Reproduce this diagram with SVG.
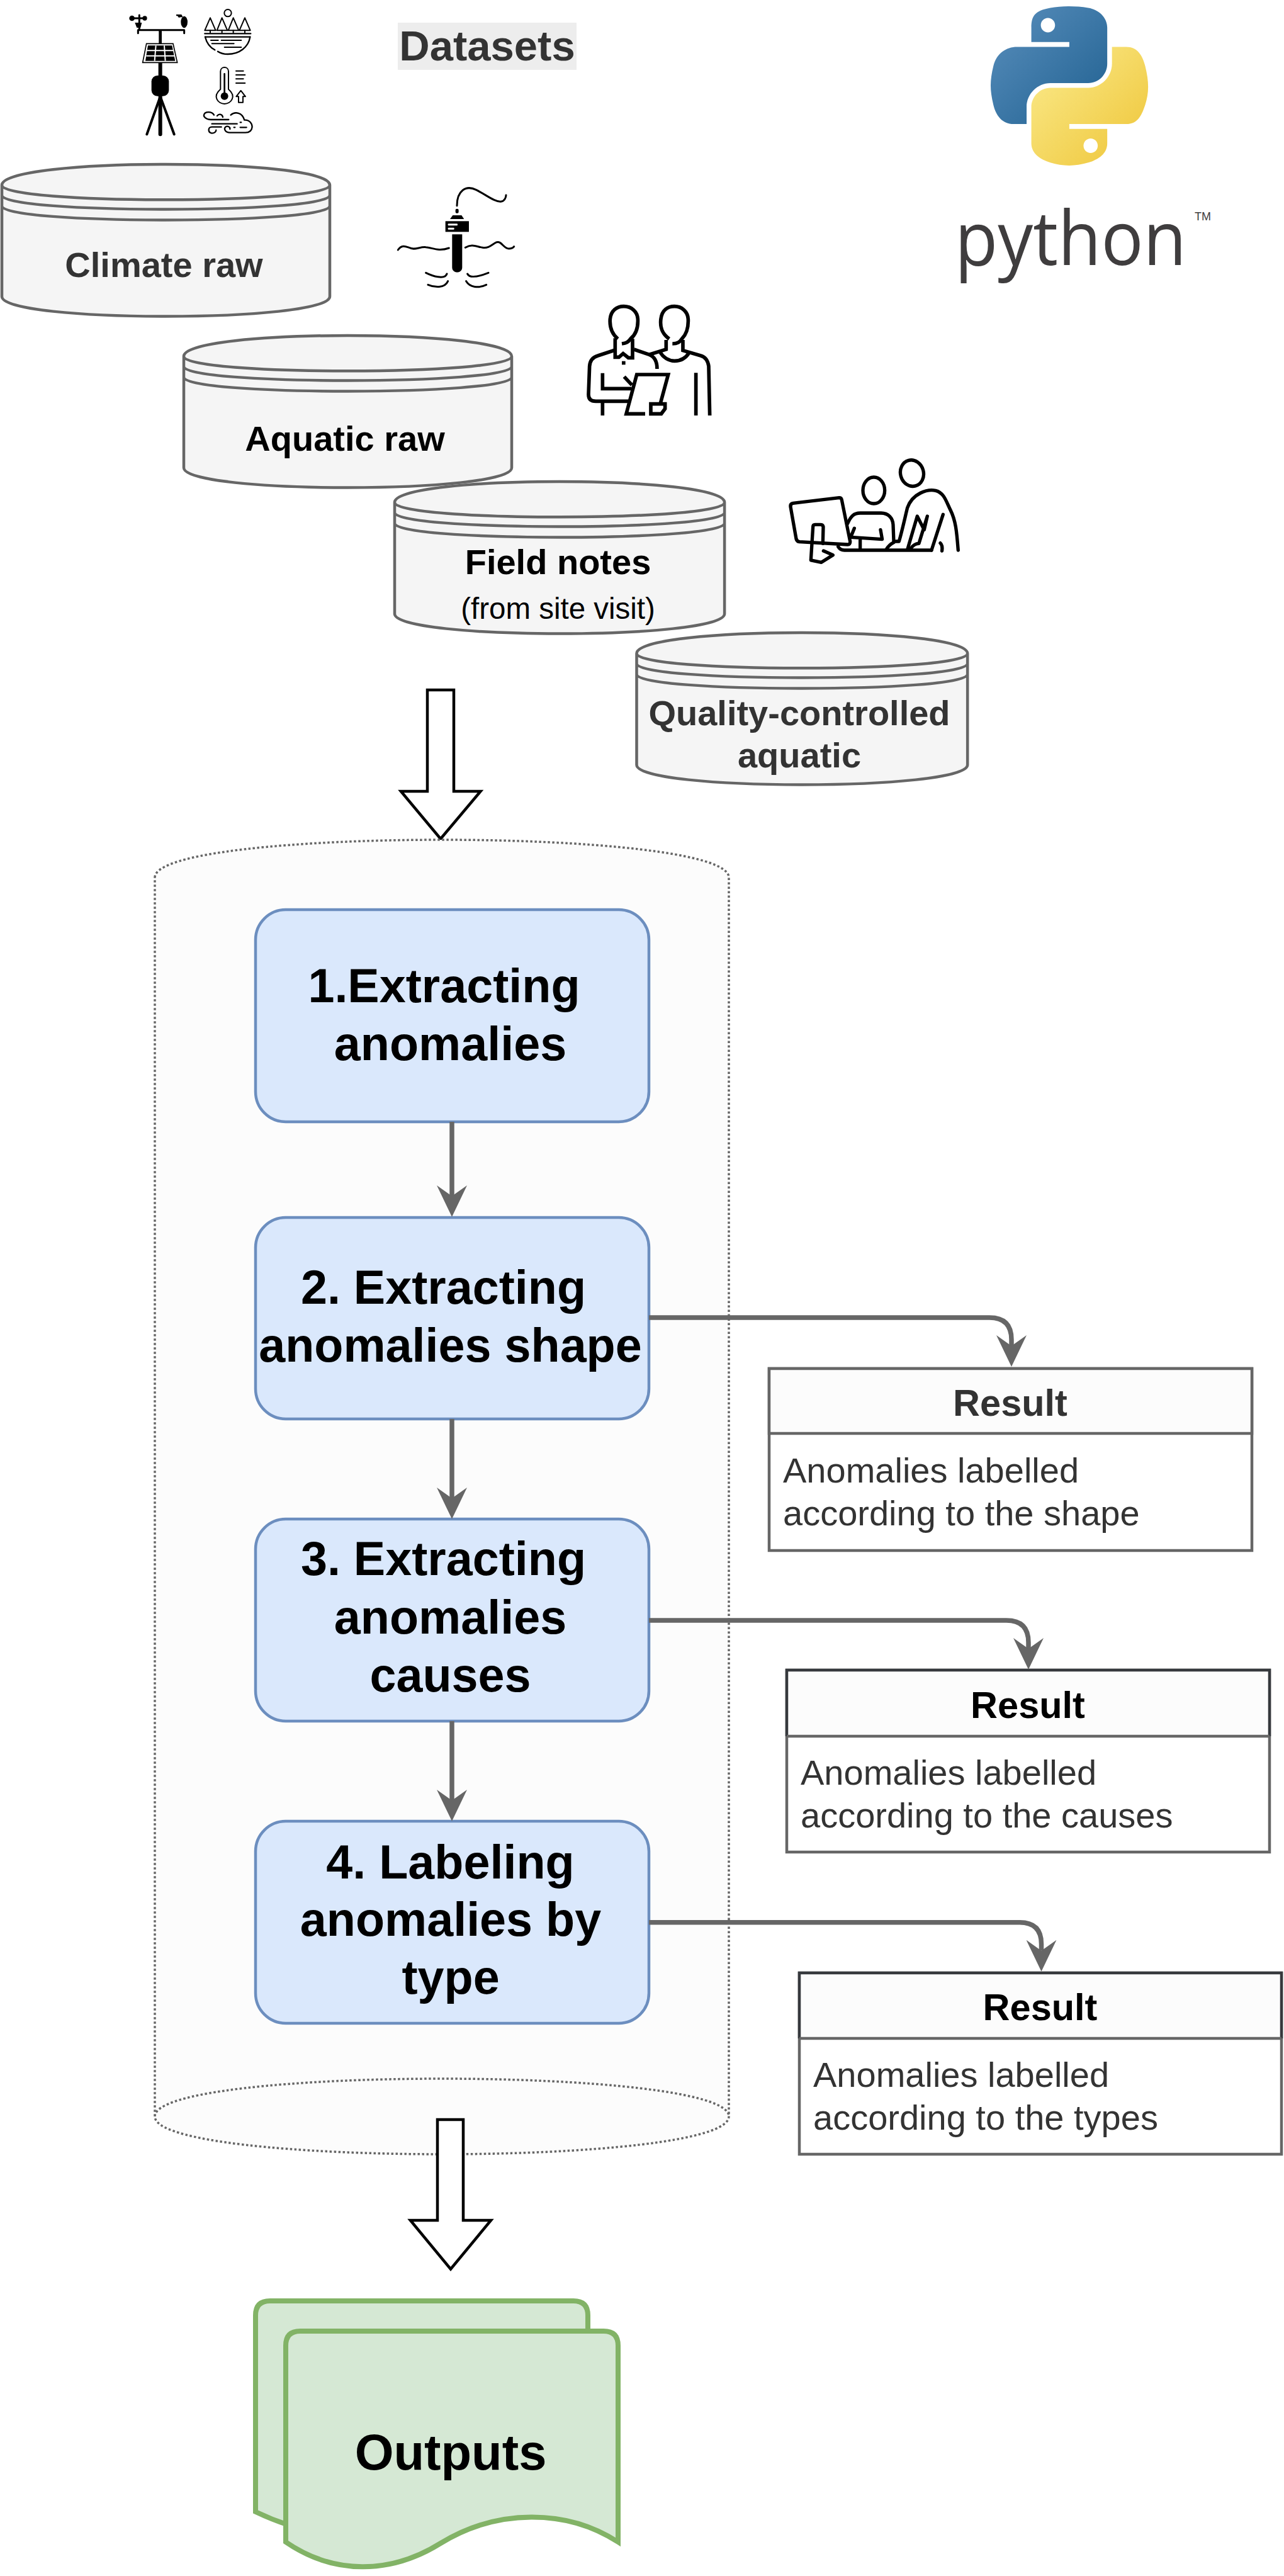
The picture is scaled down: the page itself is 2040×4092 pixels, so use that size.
<svg xmlns="http://www.w3.org/2000/svg" width="2040" height="4092" viewBox="0 0 2040 4092">
<style>
text{font-family:"Liberation Sans",Arial,sans-serif}
.ds{fill:#f5f5f5;stroke:#666;stroke-width:4.5}
.dl{font-weight:700;font-size:56px;text-anchor:middle}
.step rect{fill:#dae8fc;stroke:#6c8ebf;stroke-width:4.5}
.st{font-weight:700;font-size:75.500px;text-anchor:middle;fill:#000}
.hollow{fill:#fff;stroke:#000;stroke-width:4.5}
.conn{fill:none;stroke:#666;stroke-width:7.500}
.res rect,.res path{stroke:#666;stroke-width:4.5}
.res path.hd{stroke:#36393d}
.rt{font-weight:700;font-size:59.500px;text-anchor:middle}
.rb{font-size:56px;fill:#333}
.doc{fill:#d5e8d4;stroke:#82b366;stroke-width:8}
.i{fill:none;stroke:#000;stroke-linecap:round;stroke-linejoin:round}
.k{fill:#000;stroke:none}
</style>
<defs>
<marker id="ah" markerUnits="userSpaceOnUse" markerWidth="50" markerHeight="48" viewBox="0 0 50 48" refX="17" refY="24" orient="auto"><path d="M50 24L0 0L17 24L0 48Z" fill="#666"/></marker>
<linearGradient id="pb" x1="0" y1="0" x2="1" y2="1"><stop offset="0" stop-color="#5a8fbd"/><stop offset="1" stop-color="#1f6090"/></linearGradient>
<linearGradient id="py" x1="0" y1="0" x2="1" y2="1"><stop offset="0" stop-color="#fbec8f"/><stop offset="1" stop-color="#eec435"/></linearGradient>
<path id="dsp" d="M0 33C0 -11 521 -11 521 33V210C521 252 0 252 0 210ZM521 33C521 64 0 64 0 33M521 49C521 79 0 79 0 49M521 66C521 96 0 96 0 66"/>
</defs>

<g id="datasets-title"><rect x="632" y="36" width="284" height="75" fill="#ededed"/><text x="774" y="95.500" font-size="67" font-weight="700" text-anchor="middle" fill="#333">Datasets</text></g>

<g id="python-logo">
<g transform="translate(1574,10) scale(2.25)">
<path fill="url(#pb)" d="M54.919 0c-4.584.022-8.961.413-12.813 1.095C30.76 3.099 28.7 7.295 28.7 15.032v10.219h26.813v3.406H18.638c-7.793 0-14.616 4.684-16.75 13.594-2.462 10.213-2.571 16.586 0 27.25 1.905 7.938 6.457 13.594 14.25 13.594h9.218v-12.25c0-8.85 7.657-16.656 16.75-16.656h26.782c7.454 0 13.406-6.138 13.406-13.625V15.032c0-7.266-6.13-12.725-13.406-13.937C64.282.328 59.502-.02 54.918 0zm-14.5 8.22c2.77 0 5.031 2.298 5.031 5.125 0 2.816-2.262 5.094-5.031 5.094-2.78 0-5.031-2.278-5.031-5.094 0-2.827 2.251-5.125 5.03-5.125z"/>
<path fill="url(#py)" d="M85.638 28.657v11.906c0 9.231-7.826 17-16.75 17H42.106c-7.336 0-13.406 6.279-13.406 13.625V96.72c0 7.266 6.319 11.54 13.406 13.625 8.488 2.496 16.627 2.947 26.782 0 6.75-1.954 13.406-5.888 13.406-13.625V86.5H55.513v-3.405H95.7c7.793 0 10.696-5.436 13.406-13.594 2.8-8.399 2.681-16.476 0-27.25-1.925-7.758-5.604-13.594-13.406-13.594H85.638zM70.575 93.313c2.78 0 5.031 2.278 5.031 5.094 0 2.827-2.252 5.125-5.03 5.125-2.77 0-5.032-2.298-5.032-5.125 0-2.816 2.261-5.094 5.031-5.094z"/>
</g>
<text transform="translate(1517,421) scale(.93,1)" font-size="120" fill="#3f3d3e" style="font-family:'Open Sans','Noto Sans',sans-serif;font-weight:400">python</text>
<text x="1898" y="349.500" font-size="18" fill="#3f3d3e">TM</text>
</g>

<g id="icon-weather" transform="translate(180,0) scale(.3333)">
<g class="i">
<path stroke-width="14" d="M224 148V300"/><path stroke-width="18" d="M224 300V640"/>
<path stroke-width="9" d="M118 143H338M118 143V158M338 143V158M89 87H150M124 72V143"/>
<path stroke-width="12" d="M224 460L160 640M224 460L290 640"/>
</g>
<circle class="k" cx="89" cy="87" r="13"/><circle class="k" cx="150" cy="87" r="11"/>
<path class="k" d="M103 108H136L130 132H112Z"/>
<path class="k" d="M300 69H325L332 82H322L312 84L306 76H300Z"/><ellipse class="k" cx="338" cy="105" rx="16" ry="28"/>
<path d="M158 208H285L305 298H140Z" fill="#fff" stroke="#000" stroke-width="5"/>
<path class="k" d="M165 217H280L295 290H153Z"/>
<path d="M160 241H286M157 266H291M203 217L197 290M243 217L248 290" stroke="#fff" stroke-width="6" fill="none"/>
<rect class="k" x="182" y="360" width="83" height="98" rx="28"/>
</g>

<g id="icon-lake" transform="translate(180,0) scale(.3333)">
<g class="i" stroke-width="6">
<circle cx="546" cy="62" r="17"/>
<path d="M462 85L436 145H488ZM518 85L494 145H544ZM572 85L548 145H598ZM627 85L601 145H653Z"/>
<path d="M462 145V156M518 145V156M572 145V156M627 145V156"/>
<path stroke-width="7" d="M436 160H655M438 176H652"/>
<path stroke-width="7" d="M438 176C445 205 460 225 484 238M498 245C515 256 530 258 546 258C600 258 645 225 652 176"/>
<path d="M465 192H500M515 192H610M470 208H575M530 225H610"/>
</g></g>

<g id="icon-thermo" transform="translate(180,0) scale(.3333)">
<g class="i" stroke-width="6">
<path d="M511 425V340C511 315 549 315 549 340V425C590 460 560 495 530 495C500 495 470 460 511 425Z"/>
<path stroke-width="8" d="M530 352V440"/>
<path d="M585 338H620M585 357H628M585 376H620M585 396H628"/>
<path d="M608 432L630 460H618V488H597V460H586Z"/>
</g><circle class="k" cx="530" cy="458" r="18"/></g>

<g id="icon-wind" transform="translate(180,0) scale(.3333)">
<g class="i" stroke-width="7">
<path d="M550 570H465C440 570 430 555 432 548C436 530 470 530 480 548"/>
<path d="M495 552C505 540 520 545 522 558"/>
<path d="M560 548C580 530 615 535 625 572C650 570 662 590 662 605C660 625 645 632 630 632H555C535 632 525 615 535 605C545 598 558 605 556 615"/>
<path d="M470 590H590M605 583H610M605 607H635M575 607H580"/>
<path d="M515 605H470C450 605 450 632 470 635C482 635 490 628 490 620"/>
</g></g>

<g id="icon-probe" transform="translate(600,270) scale(.3333)">
<g class="i" stroke-width="9">
<path d="M378 170C378 100 420 70 470 95C520 120 560 155 590 150C605 148 612 130 612 120"/>
<path d="M97 381C115 355 135 365 150 370C175 385 200 365 230 368C260 370 290 390 340 372"/>
<path d="M418 370C450 350 470 365 500 370C530 375 545 355 565 345C590 335 600 375 625 375C635 375 645 372 650 365"/>
<path d="M230 490C260 505 320 525 330 495M240 547C270 560 320 565 335 530M528 490C490 505 440 520 428 495M518 547C480 565 440 560 422 530"/>
</g>
<rect class="k" x="371" y="185" width="15" height="21" rx="6"/>
<path class="k" d="M345 234L358 216H400L412 234Z"/>
<rect class="k" x="323" y="244" width="112" height="51"/>
<rect x="335" y="256" width="46" height="9" rx="3" fill="#fff"/><rect x="335" y="275" width="30" height="9" rx="3" fill="#fff"/>
<path class="k" d="M355 307H403V464C403 495 355 495 355 464Z"/>
</g>

<g id="icon-people" transform="translate(900,460) scale(.3333)">
<g class="i" stroke-width="17" style="stroke-linecap:butt;stroke-linejoin:miter">
<path d="M245 235C215 210 205 180 208 140C212 100 240 80 273 80C310 80 338 105 340 140C342 180 330 215 305 235C295 250 285 255 264 258"/>
<path d="M232 232V322H250L270 305L295 325H315V235"/>
<path d="M232 288L150 315C125 322 112 340 110 365L105 500C105 520 115 532 140 532H300"/>
<path d="M172 398V472H310M275 415L312 455M172 532V600"/>
<path d="M322 285L395 310C420 320 432 345 432 378"/>
<path d="M375 592H285L335 405H485L447 545"/><path d="M402 592V545H470V568L452 592Z"/>
<path d="M490 235C455 210 445 180 450 140C455 100 480 80 515 80C550 80 578 105 580 140C582 180 570 215 550 235C540 250 530 258 505 258"/>
<path d="M475 240V285L395 310M555 240V290L640 315C665 322 675 345 678 365L683 600"/>
<path d="M445 295C460 325 490 340 515 340C545 340 570 325 585 300M617 397V600"/>
</g>
<rect class="k" x="264" y="341" width="17" height="17"/>
</g>

<g id="icon-meeting" transform="translate(1220,700) scale(.3333)">
<g class="i" stroke-width="16">
<ellipse cx="505" cy="237" rx="52" ry="63"/><ellipse cx="687" cy="155" rx="55" ry="63" transform="rotate(-15 687 155)"/>
<path d="M120 298L340 272Q350 272 352 282L392 480Q393 495 380 495L150 482Q138 480 135 468L108 315Q106 300 120 298Z"/>
<path d="M262 490L264 410Q262 400 250 400H225Q215 400 215 410L205 570L255 580L310 545L265 525"/>
<path d="M380 395C395 360 410 345 440 345H540C575 345 595 370 597 400L600 480"/>
<path d="M412 418L395 460L545 470L537 425M440 470V515"/>
<path d="M335 505Q345 522 365 522H780"/>
<path d="M610 480H625C640 430 655 360 665 320C690 250 760 230 800 238C840 248 850 290 870 330C895 380 900 430 907 522"/>
<path d="M780 522L835 352M665 520L712 360L745 425L760 360L720 490C700 490 690 500 680 515M565 518C575 500 590 490 600 485M822 488C830 495 832 510 830 525"/>
</g></g>

<g id="ds-climate"><use href="#dsp" x="3" y="261" class="ds"/><text class="dl" x="260.500" y="440" fill="#333">Climate raw</text></g>
<g id="ds-aquatic"><use href="#dsp" x="292" y="533" class="ds"/><text class="dl" x="548" y="715.500" fill="#000">Aquatic raw</text></g>
<g id="ds-field"><use href="#dsp" transform="translate(627,765) scale(1.006,1)" class="ds"/><text class="dl" x="886.500" y="911.500" fill="#000">Field notes</text><text x="886.500" y="982.500" font-size="47.500" text-anchor="middle" fill="#000">(from site visit)</text></g>
<g id="ds-qc"><use href="#dsp" transform="translate(1011.500,1005) scale(1.009,1)" class="ds"/><text class="dl" x="1270" y="1151.500" fill="#333">Quality-controlled</text><text class="dl" x="1270" y="1219" fill="#333">aquatic</text></g>

<g id="arrow-in"><path class="hollow" d="M679 1096H721V1257H763.500L700 1332.500L637 1257H679Z"/></g>

<g id="pipeline"><path d="M246 1394C246 1314 1158 1314 1158 1394V3362C1158 3442 246 3442 246 3362ZM246 3362C246 3282 1158 3282 1158 3362" fill="#fcfcfc" stroke="#666" stroke-width="3.500" stroke-dasharray="3.500 3.500"/></g>

<g id="step-1" class="step"><rect x="406" y="1445" width="625" height="337" rx="48"/><text class="st" x="705.500" y="1592">1.Extracting</text><text class="st" x="715.500" y="1684">anomalies</text></g>
<g id="step-2" class="step"><rect x="406" y="1934" width="625" height="320" rx="48"/><text class="st" x="704.500" y="2071">2. Extracting</text><text class="st" x="715.500" y="2163">anomalies shape</text></g>
<g id="step-3" class="step"><rect x="406" y="2413" width="625" height="321" rx="48"/><text class="st" x="704.500" y="2502">3. Extracting</text><text class="st" x="715.500" y="2595">anomalies</text><text class="st" x="715.500" y="2687">causes</text></g>
<g id="step-4" class="step"><rect x="406" y="2893" width="625" height="321" rx="48"/><text class="st" x="715.500" y="2984">4. Labeling</text><text class="st" x="716" y="3075">anomalies by</text><text class="st" x="716" y="3167">type</text></g>

<g id="result-1" class="res"><rect x="1222" y="2174" width="767" height="289" fill="#fff"/><path d="M1222 2174H1989V2277H1222Z" fill="#fcfcfc"/><text class="rt" x="1605" y="2249" fill="#333">Result</text><text class="rb" x="1244" y="2355">Anomalies labelled</text><text class="rb" x="1244" y="2423">according to the shape</text></g>
<g id="result-2" class="res"><rect x="1250" y="2653" width="767" height="289" fill="#fff"/><path class="hd" d="M1250 2758V2653H2017V2758" fill="#fcfcfc"/><path d="M1250 2758H2017" fill="none"/><text class="rt" x="1633" y="2729" fill="#000">Result</text><text class="rb" x="1272" y="2835">Anomalies labelled</text><text class="rb" x="1272" y="2903">according to the causes</text></g>
<g id="result-3" class="res"><rect x="1270" y="3134" width="766" height="288" fill="#fff"/><path class="hd" d="M1270 3238V3134H2036V3238" fill="#fcfcfc"/><path d="M1270 3238H2036" fill="none"/><text class="rt" x="1652.500" y="3209" fill="#000">Result</text><text class="rb" x="1292" y="3315">Anomalies labelled</text><text class="rb" x="1292" y="3383">according to the types</text></g>

<g id="connectors">
<path class="conn" marker-end="url(#ah)" d="M718 1782V1900"/>
<path class="conn" marker-end="url(#ah)" d="M718 2254V2380"/>
<path class="conn" marker-end="url(#ah)" d="M718 2734V2860"/>
<path class="conn" marker-end="url(#ah)" d="M1031 2093H1572Q1607 2093 1607 2128V2138"/>
<path class="conn" marker-end="url(#ah)" d="M1031 2574H1599Q1634 2574 1634 2609V2619"/>
<path class="conn" marker-end="url(#ah)" d="M1031 3053.700H1620Q1654.500 3053.700 1654.500 3088V3098.700"/>
</g>

<g id="arrow-out"><path class="hollow" d="M695 3367H736V3527H780L716 3604.500L652 3527H695Z"/></g>

<g id="outputs">
<path class="doc" d="M406 3678Q406 3655 429 3655H911Q934 3655 934 3678V3990C850 3950 780 3960 700 4000C610 4045 500 4035 406 3990Z"/>
<path class="doc" d="M454 3726Q454 3703 477 3703H959Q982 3703 982 3726V4038C900 3985 790 3985 700 4040C620 4090 530 4090 454 4038Z"/>
<text x="716" y="3923" font-size="79.500" font-weight="700" text-anchor="middle" fill="#000">Outputs</text>
</g>
</svg>
